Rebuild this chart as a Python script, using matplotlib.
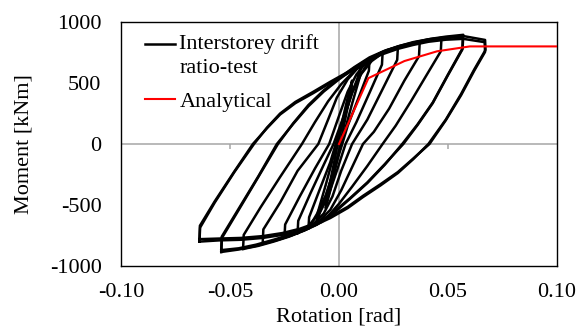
import matplotlib
matplotlib.use("Agg")
import numpy as np
import matplotlib.pyplot as plt
from matplotlib.legend_handler import HandlerLine2D

plt.rcParams['font.family'] = ['Liberation Serif', 'DejaVu Serif']

# hysteresis cycles: rotation [rad], moment [kNm]
# each cycle: negative peak -> positive peak -> back to negative peak
c1_rot = [-0.006, -0.0058, -0.002, 0.001, 0.004, 0.006,
          0.0058, 0.002, -0.001, -0.004, -0.006]
c1_mom = [-520, -460, -130, 150, 380, 520,
          460, 130, -150, -380, -520]

c2_rot = [-0.010, -0.0097, -0.006, -0.001, 0.003, 0.006, 0.0085, 0.010,
          0.0097, 0.006, 0.001, -0.003, -0.006, -0.0085, -0.010]
c2_mom = [-640, -560, -330, 0, 250, 420, 540, 640,
          560, 330, 0, -250, -420, -540, -640]

c3_rot = [-0.014, -0.0137, -0.009, -0.004, -0.0015, 0.002, 0.006, 0.010, 0.014,
          0.0137, 0.009, 0.004, 0.0015, -0.002, -0.006, -0.010, -0.014]
c3_mom = [-690, -600, -380, -150, 0, 200, 420, 570, 690,
          600, 380, 150, 0, -200, -420, -570, -690]

c4_rot = [-0.019, -0.0187, -0.013, -0.007, -0.0025, 0.002, 0.006, 0.010, 0.015, 0.020,
          0.0197, 0.014, 0.008, 0.003, -0.001, -0.005, -0.009, -0.014, -0.019]
c4_mom = [-730, -630, -400, -170, 0, 220, 430, 570, 680, 745,
          650, 420, 180, 0, -220, -430, -570, -670, -730]

c5_rot = [-0.025, -0.0247, -0.018, -0.011, -0.0045, 0.000, 0.004, 0.008, 0.013, 0.019, 0.027,
          0.0267, 0.020, 0.013, 0.006, 0.001, -0.003, -0.007, -0.012, -0.018, -0.025]
c5_mom = [-765, -660, -430, -200, 0, 230, 430, 570, 680, 745, 790,
          690, 450, 200, 0, -220, -430, -570, -660, -720, -765]

c6_rot = [-0.035, -0.0347, -0.027, -0.019, -0.0095, -0.005, -0.001, 0.004, 0.009, 0.015,
          0.022, 0.029, 0.037,
          0.0367, 0.030, 0.023, 0.016, 0.011, 0.006, 0.001, -0.004, -0.009, -0.015,
          -0.022, -0.028, -0.035]
c6_mom = [-815, -700, -480, -220, 0, 200, 380, 530, 630, 710,
          770, 805, 830,
          720, 520, 290, 100, 0, -190, -380, -540, -630, -700,
          -750, -785, -815]

c7_rot = [-0.044, -0.0437, -0.036, -0.027, -0.017, -0.011, -0.005, 0.001, 0.007, 0.013,
          0.020, 0.027, 0.034, 0.041, 0.047,
          0.0467, 0.040, 0.033, 0.026, 0.020, 0.013, 0.006, 0.000, -0.005, -0.010,
          -0.016, -0.023, -0.030, -0.037, -0.044]
c7_mom = [-860, -745, -520, -270, 0, 180, 350, 490, 600, 690,
          755, 800, 835, 858, 870,
          760, 560, 350, 150, 0, -180, -350, -490, -590, -660,
          -710, -760, -800, -835, -860]

c8_rot = [-0.054, -0.0537, -0.046, -0.037, -0.028, -0.021, -0.014, -0.007, 0.000, 0.007,
          0.014, 0.021, 0.028, 0.035, 0.042, 0.049, 0.057,
          0.0567, 0.050, 0.043, 0.036, 0.029, 0.021, 0.013, 0.005, -0.002, -0.008,
          -0.015, -0.022, -0.030, -0.038, -0.046, -0.054]
c8_mom = [-885, -770, -540, -270, 0, 170, 320, 440, 540, 630,
          710, 765, 805, 835, 862, 880, 895,
          785, 570, 340, 160, 0, -170, -320, -450, -560, -640,
          -700, -750, -795, -835, -865, -885]

c8b_rot = [-0.054, -0.0538, -0.046, -0.037, -0.0285, -0.021, -0.014, -0.007, 0.000, 0.007,
           0.014, 0.021, 0.028, 0.035, 0.042, 0.049, 0.0568,
           0.0566, 0.050, 0.043, 0.036, 0.0295, 0.021, 0.013, 0.005, -0.002, -0.008,
           -0.015, -0.022, -0.030, -0.038, -0.046, -0.054]
c8b_mom = [-870, -760, -530, -265, 0, 165, 310, 430, 530, 620,
           700, 755, 795, 825, 850, 868, 880,
           775, 565, 335, 155, 0, -165, -315, -445, -550, -630,
           -690, -740, -785, -825, -855, -870]

c9_rot = [-0.064, -0.0637, -0.057, -0.048, -0.039, -0.033, -0.027, -0.020, -0.012, -0.004,
          0.004, 0.012, 0.019, 0.027, 0.034, 0.041, 0.049, 0.057, 0.067,
          0.0672, 0.062, 0.056, 0.049, 0.041, 0.034, 0.027, 0.019, 0.011, 0.004,
          -0.004, -0.011, -0.018, -0.026, -0.035, -0.045, -0.055, -0.064]
c9_mom = [-800, -685, -480, -230, 0, 135, 250, 345, 426, 510,
          590, 680, 745, 795, 828, 855, 875, 885, 853,
          771, 610, 410, 200, 0, -125, -238, -340, -435, -525,
          -607, -665, -710, -745, -770, -785, -790, -800]

c9b_rot = [-0.064, -0.0638, -0.057, -0.048, -0.0395, -0.033, -0.027, -0.020, -0.012, -0.004,
           0.004, 0.012, 0.019, 0.027, 0.034, 0.041, 0.049, 0.057, 0.0668,
           0.0670, 0.062, 0.056, 0.049, 0.0415, 0.034, 0.027, 0.019, 0.011, 0.004,
           -0.004, -0.011, -0.018, -0.026, -0.035, -0.045, -0.055, -0.064]
c9b_mom = [-780, -670, -470, -225, 0, 130, 242, 335, 415, 500,
           580, 665, 730, 780, 812, 838, 855, 862, 835,
           755, 600, 400, 195, 0, -120, -230, -330, -425, -515,
           -595, -650, -695, -730, -755, -770, -775, -780]

cycles = [(c1_rot, c1_mom), (c2_rot, c2_mom), (c3_rot, c3_mom), (c4_rot, c4_mom),
          (c5_rot, c5_mom), (c6_rot, c6_mom), (c7_rot, c7_mom), (c8_rot, c8_mom),
          (c8b_rot, c8b_mom), (c9_rot, c9_mom), (c9b_rot, c9b_mom)]

# analytical backbone
ana_rot = [0.0, 0.0135, 0.030, 0.045, 0.060, 0.100]
ana_mom = [0, 540, 680, 760, 800, 800]

x_ticks = [-0.10, -0.05, 0.00, 0.05, 0.10]
y_ticks = [-1000, -500, 0, 500, 1000]

FS = 16


class HandlerFirstLine(HandlerLine2D):
    # put the handle beside the first line of a two-line label
    def create_artists(self, legend, orig_handle, xdescent, ydescent, width, height,
                       fontsize, trans):
        artists = super().create_artists(legend, orig_handle, xdescent, ydescent,
                                         width, height, fontsize, trans)
        for a in artists:
            a.set_ydata(np.asarray(a.get_ydata()) + 0.5 * fontsize)
        return artists


fig = plt.figure(figsize=(5.78, 3.32), dpi=100)
ax = fig.add_axes([0.2093, 0.1988, 0.7544, 0.7349])

# zero lines (axes crossing at origin, like the spreadsheet chart)
ax.axhline(0, color='#a6a6a6', lw=1.1, zorder=1)
ax.axvline(0, color='#a6a6a6', lw=1.1, zorder=1)
ax.vlines([-0.05, 0.05], -45, 0, color='#a6a6a6', lw=1.1, zorder=1)

test_line = None
for r, m in cycles:
    ln, = ax.plot(r, m, color='black', lw=1.8, solid_joinstyle='round', zorder=2)
    if test_line is None:
        test_line = ln

ana_line, = ax.plot(ana_rot, ana_mom, color='#ff0000', lw=1.5, zorder=3)

ax.set_xlim(-0.10, 0.10)
ax.set_ylim(-1000, 1000)
ax.set_xticks(x_ticks)
ax.set_yticks(y_ticks)
ax.set_xticklabels(['%.2f' % v for v in x_ticks])
ax.set_yticklabels(['%d' % v for v in y_ticks])
ax.tick_params(axis='x', length=0, pad=12, labelsize=FS)
ax.tick_params(axis='y', length=0, pad=14, labelsize=FS)

for s in ax.spines.values():
    s.set_color('black')
    s.set_linewidth(1.0)

ax.set_xlabel('Rotation [rad]', fontsize=FS)
ax.set_ylabel('Moment [kNm]', fontsize=FS)
ax.xaxis.set_label_coords(0.5, -0.172)
ax.yaxis.set_label_coords(-0.2, 0.5)

leg = ax.legend([test_line, ana_line], ['Interstorey drift\nratio-test', 'Analytical'],
                loc='upper left', bbox_to_anchor=(0.027, 1.0), frameon=False, fontsize=FS,
                handlelength=1.35, handletextpad=0.2, borderaxespad=0.25, borderpad=0.3,
                labelspacing=0.6, handler_map={test_line: HandlerFirstLine()})
for t in leg.get_texts():
    t.set_linespacing(1.35)

fig.savefig('out.png', dpi=100)
